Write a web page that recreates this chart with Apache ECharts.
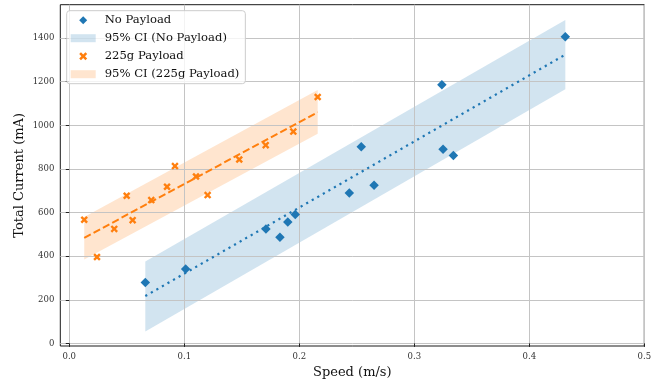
<!DOCTYPE html>
<html>
<head>
<meta charset="utf-8">
<script src="https://cdn.jsdelivr.net/npm/echarts@6/dist/echarts.min.js"></script>
<style>html,body{margin:0;padding:0;background:#fff}#c{width:662px;height:384px}</style>
</head>
<body>
<div id="c"></div>
<script>
// ---- data ----
const noPayloadSpeed   = [0.0661, 0.1012, 0.1710, 0.1832, 0.1900, 0.1965, 0.2435, 0.2539, 0.2650, 0.3240, 0.3250, 0.3340, 0.4313];
const noPayloadCurrent = [279, 341, 524, 487, 557, 591, 689, 902, 725, 1186, 890, 861, 1406];
const payloadSpeed     = [0.0130, 0.0241, 0.0391, 0.0499, 0.0551, 0.0713, 0.0850, 0.0919, 0.1102, 0.1203, 0.1478, 0.1708, 0.1948, 0.2160];
const payloadCurrent   = [567, 396, 525, 677, 565, 657, 718, 813, 765, 680, 843, 909, 971, 1130];
// fitted lines (endpoints) and 95% CI bands (lower/upper at endpoints)
const noPayloadFitX = [0.0661, 0.4313];
const noPayloadFitY = [217, 1324];
const noPayloadCILow = [54, 1165];
const noPayloadCIHigh = [376, 1483];
const payloadFitX = [0.0130, 0.2160];
const payloadFitY = [484, 1060];
const payloadCILow = [385, 961];
const payloadCIHigh = [580, 1162];
const xTicks = [0, 0.1, 0.2, 0.3, 0.4, 0.5];
const yTicks = [0, 200, 400, 600, 800, 1000, 1200, 1400];
const seriesNames = ['No Payload', '95% CI (No Payload)', '225g Payload', '95% CI (225g Payload)'];

const BLUE = '#1f77b4', ORANGE = '#ff7f0e';
const BLUE_BAND = 'rgba(31,119,180,0.2)', ORANGE_BAND = 'rgba(255,127,14,0.2)';
const FONT = 'DejaVu Serif';
const XSYM = 'path://M0.45,0 L1,0.55 L0.55,1 L0,0.45 L-0.55,1 L-1,0.55 L-0.45,0 L-1,-0.55 L-0.55,-1 L0,-0.45 L0.55,-1 L1,-0.55 Z';
const DSYM = 'path://M0,-1 L1,0 L0,1 L-1,0 Z';

const zip = (a, b) => a.map((v, i) => [v, b[i]]);

function bandSeries(name, xs, lo, hi, color) {
  const data = xs.map((x, i) => [x, lo[i], hi[i]]);
  return {
    name, type: 'custom', z: 0, silent: true,
    itemStyle: { color },
    data,
    encode: { x: 0, y: [1, 2] },
    renderItem: function (params, api) {
      if (params.dataIndex !== 0) return null;
      const pts = [];
      for (let i = 0; i < data.length; i++) pts.push(api.coord([data[i][0], data[i][2]]));
      for (let i = data.length - 1; i >= 0; i--) pts.push(api.coord([data[i][0], data[i][1]]));
      return { type: 'polygon', shape: { points: pts }, style: { fill: color } };
    }
  };
}

const chart = echarts.init(document.getElementById('c'), null, { renderer: 'canvas' });
chart.setOption({
  animation: false,
  textStyle: { fontFamily: FONT },
  grid: { left: 60.3, right: 17.7, top: 4.7, bottom: 37.7, show: true, borderColor: '#1a1a1a', borderWidth: 1, backgroundColor: 'transparent', z: 1 },
  legend: {
    orient: 'vertical', left: 66.7, top: 10.7,
    symbolKeepAspect: true,
    data: [
      { name: seriesNames[0], icon: DSYM },
      { name: seriesNames[1], icon: 'rect' },
      { name: seriesNames[2], icon: XSYM },
      { name: seriesNames[3], icon: 'rect' }
    ],
    itemWidth: 25, itemHeight: 8, itemGap: 5,
    padding: [3, 6, 3, 4],
    backgroundColor: 'rgba(255,255,255,0.8)', borderColor: '#cccccc', borderWidth: 1, borderRadius: 3,
    textStyle: { fontFamily: FONT, fontSize: 11.6, color: '#111', padding: [0, 0, 0, 4], lineHeight: 13 },
    selectedMode: false
  },
  xAxis: {
    type: 'value', min: -0.0078, max: 0.5, z: 1,
    axisLine: { show: false },
    axisTick: { show: true, inside: false, length: 3.5, lineStyle: { color: '#222' }, customValues: xTicks },
    axisLabel: { customValues: xTicks, formatter: v => v.toFixed(1), fontFamily: FONT, fontSize: 8.5, color: '#333', margin: 6 },
    splitLine: { show: true, lineStyle: { color: '#c4c4c4', width: 1 } },
    name: 'Speed (m/s)', nameLocation: 'middle', nameGap: 20, nameMoveOverlap: false,
    nameTextStyle: { fontFamily: FONT, fontSize: 13, color: '#111' }
  },
  yAxis: {
    type: 'value', min: -12, max: 1553, z: 1,
    axisLine: { show: false },
    axisTick: { show: true, inside: false, length: 3.5, lineStyle: { color: '#222' }, customValues: yTicks },
    axisLabel: { customValues: yTicks, formatter: v => String(Math.round(v)), fontFamily: FONT, fontSize: 8.5, color: '#333', margin: 6 },
    splitLine: { show: true, lineStyle: { color: '#c4c4c4', width: 1 } },
    name: 'Total Current (mA)', nameLocation: 'middle', nameGap: 34, nameMoveOverlap: false,
    nameTextStyle: { fontFamily: FONT, fontSize: 13, color: '#111' }
  },
  series: [
    bandSeries(seriesNames[1], noPayloadFitX, noPayloadCILow, noPayloadCIHigh, BLUE_BAND),
    bandSeries(seriesNames[3], payloadFitX, payloadCILow, payloadCIHigh, ORANGE_BAND),
    {
      name: 'fitNo', type: 'line', z: 3, data: zip(noPayloadFitX, noPayloadFitY), showSymbol: false, silent: true,
      lineStyle: { color: BLUE, width: 2.2, type: [2.2, 4.2] }
    },
    {
      name: 'fitPay', type: 'line', z: 3, data: zip(payloadFitX, payloadFitY), showSymbol: false, silent: true,
      lineStyle: { color: ORANGE, width: 2, type: [7.4, 3.2] }
    },
    {
      name: seriesNames[0], type: 'scatter', z: 4, symbol: DSYM, symbolSize: 9.5,
      data: zip(noPayloadSpeed, noPayloadCurrent), itemStyle: { color: BLUE, opacity: 1 }
    },
    {
      name: seriesNames[2], type: 'scatter', z: 4, symbol: XSYM, symbolSize: 7.5,
      data: zip(payloadSpeed, payloadCurrent), itemStyle: { color: ORANGE, opacity: 1 }
    }
  ]
});
</script>
</body>
</html>
